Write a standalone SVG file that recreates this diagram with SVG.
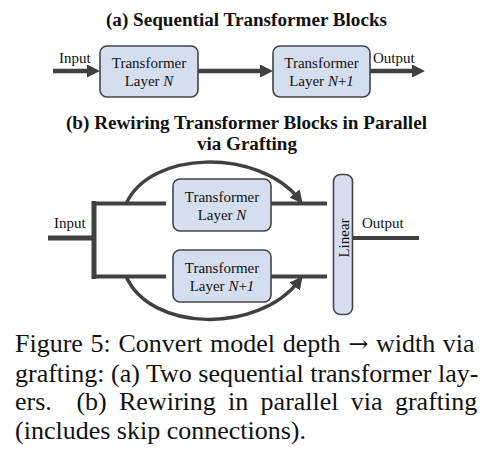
<svg xmlns="http://www.w3.org/2000/svg" width="498" height="462" viewBox="0 0 498 462">
<defs>
<style>
.t{font-family:"Liberation Serif","Times New Roman",serif;fill:#111;}
.ti{font-family:"Liberation Serif","Times New Roman",serif;font-weight:bold;fill:#111;}
.box{fill:#d5deef;stroke:#444;stroke-width:1.6;}
.ln{stroke:#404040;fill:none;}
</style>
<marker id="ah" markerUnits="userSpaceOnUse" markerWidth="13" markerHeight="13" refX="7" refY="6.5" orient="auto" viewBox="0 0 13 13">
<path d="M0,0 L13,6.5 L0,13 z" fill="#404040"/>
</marker>
</defs>
<rect width="498" height="462" fill="#fff"/>

<text class="ti" x="246.5" y="25.5" font-size="18" text-anchor="middle" textLength="281" lengthAdjust="spacingAndGlyphs">(a) Sequential Transformer Blocks</text>

<g id="connectors">
<line class="ln" x1="53" y1="71" x2="94" y2="71" stroke-width="4.5" marker-end="url(#ah)"/>
<line class="ln" x1="198" y1="71" x2="267" y2="71" stroke-width="4.5" marker-end="url(#ah)"/>
<line class="ln" x1="370" y1="71" x2="419" y2="71" stroke-width="4.5" marker-end="url(#ah)"/>

<line class="ln" x1="48" y1="238" x2="96" y2="238" stroke-width="5"/>
<line class="ln" x1="94" y1="201" x2="94" y2="279" stroke-width="5"/>
<line class="ln" x1="92" y1="203.5" x2="166" y2="203.5" stroke-width="4"/>
<line class="ln" x1="92" y1="276.5" x2="166" y2="276.5" stroke-width="4"/>
<line class="ln" x1="271" y1="203.5" x2="327" y2="203.5" stroke-width="4"/>
<line class="ln" x1="271" y1="276.5" x2="327" y2="276.5" stroke-width="4"/>
<line class="ln" x1="353" y1="238" x2="419" y2="238" stroke-width="4"/>
<path class="ln" d="M126,204 C150,150 258,148 299,199" stroke-width="3.5" marker-end="url(#ah)"/>
<path class="ln" d="M126,276 C150,332 258,334 299,281" stroke-width="3.5" marker-end="url(#ah)"/>
</g>

<text class="t" x="59" y="63" font-size="15">Input</text>
<text class="t" x="373" y="63" font-size="15">Output</text>

<g id="a-layerN">
<rect class="box" x="100" y="46" width="98" height="51" rx="7"/>
<text class="t" x="149" y="67.5" font-size="15" text-anchor="middle">Transformer</text>
<text class="t" x="149" y="86" font-size="15" text-anchor="middle">Layer <tspan font-style="italic">N</tspan></text>
</g>
<g id="a-layerN1">
<rect class="box" x="273" y="46" width="97" height="51" rx="7"/>
<text class="t" x="321.5" y="67.5" font-size="15" text-anchor="middle">Transformer</text>
<text class="t" x="321.5" y="86" font-size="15" text-anchor="middle">Layer <tspan font-style="italic">N</tspan>+<tspan font-style="italic">1</tspan></text>
</g>

<text class="ti" x="246.5" y="129" font-size="18" text-anchor="middle" textLength="361" lengthAdjust="spacingAndGlyphs">(b) Rewiring Transformer Blocks in Parallel</text>
<text class="ti" x="247" y="150" font-size="18" text-anchor="middle" textLength="100" lengthAdjust="spacingAndGlyphs">via Grafting</text>

<text class="t" x="54" y="228" font-size="15">Input</text>
<text class="t" x="362" y="228" font-size="15">Output</text>

<g id="b-layerN">
<rect class="box" x="173" y="179" width="98" height="52" rx="7"/>
<text class="t" x="222" y="201.5" font-size="15" text-anchor="middle">Transformer</text>
<text class="t" x="222" y="220" font-size="15" text-anchor="middle">Layer <tspan font-style="italic">N</tspan></text>
</g>
<g id="b-layerN1">
<rect class="box" x="173" y="250" width="98" height="52" rx="7"/>
<text class="t" x="222" y="272.5" font-size="15" text-anchor="middle">Transformer</text>
<text class="t" x="222" y="290.5" font-size="15" text-anchor="middle">Layer <tspan font-style="italic">N</tspan>+<tspan font-style="italic">1</tspan></text>
</g>
<g id="b-linear">
<rect class="box" x="333.5" y="174.5" width="19" height="140" rx="7"/>
<text class="t" x="0" y="0" font-size="15" text-anchor="middle" transform="translate(348.5,238) rotate(-90)">Linear</text>
</g>

<g id="caption" font-size="26">
<text class="t" x="15" y="351.5" word-spacing="1.2">Figure 5: Convert model depth <tspan font-family="DejaVu Serif, serif" font-size="24">→</tspan> width via</text>
<text class="t" x="15" y="381.5">grafting: (a) Two sequential transformer lay-</text>
<text class="t" x="15" y="410" xml:space="preserve" word-spacing="5.8">ers.  (b) Rewiring in parallel via grafting</text>
<text class="t" x="15" y="438.5">(includes skip connections).</text>
</g>
</svg>
